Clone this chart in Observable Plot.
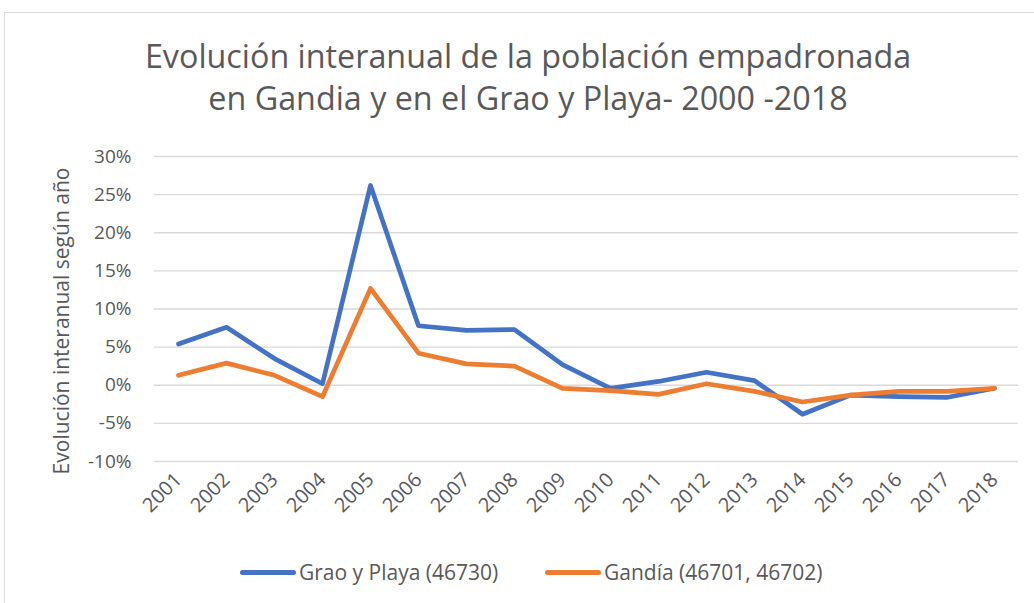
<!DOCTYPE html>
<html>
<head>
<meta charset="utf-8">
<script src="https://cdn.jsdelivr.net/npm/d3@7"></script>
<script src="https://cdn.jsdelivr.net/npm/@observablehq/plot@0.6"></script>
<style>
  html, body { margin: 0; padding: 0; background: #fff; }
  #wrap { position: relative; width: 1034px; height: 603px; overflow: hidden; font-family: "Open Sans", "Noto Sans", sans-serif; color: #595959; }
  #frame { position: absolute; left: 4px; top: 12px; width: 1100px; height: 700px; border-left: 1px solid #d9d9d9; border-top: 1px solid #d9d9d9; }
  #title { position: absolute; left: 0; width: 1056px; top: 34px; text-align: center; font-size: 32.3px; line-height: 42px; color: #595959; }
  #chart { position: absolute; left: 0; top: 0; }
  #legend { position: absolute; top: 559px; left: 0; width: 1034px; font-size: 21px; color: #595959; }
  .item { position: absolute; display: flex; align-items: center; height: 26px; }
  .sw { display: inline-block; width: 56px; height: 5px; border-radius: 3px; margin-right: 3px; }
</style>
</head>
<body>
<div id="wrap">
  <div id="frame"></div>
  <div id="title">Evolución interanual de la población empadronada<br>en Gandia y en el Grao y Playa- 2000 -2018</div>
  <div id="chart"></div>
  <div id="legend"></div>
</div>
<script>
const years = ["2001","2002","2003","2004","2005","2006","2007","2008","2009","2010","2011","2012","2013","2014","2015","2016","2017","2018"];
const graoPlaya = [5.4, 7.6, 3.5, 0.2, 26.2, 7.8, 7.2, 7.3, 2.7, -0.4, 0.5, 1.7, 0.6, -3.8, -1.3, -1.5, -1.6, -0.4];
const gandia = [1.3, 2.9, 1.3, -1.5, 12.7, 4.2, 2.8, 2.5, -0.4, -0.7, -1.2, 0.2, -0.8, -2.2, -1.3, -0.8, -0.8, -0.4];
const seriesNames = ["Grao y Playa (46730)", "Gandía (46701, 46702)"];
const seriesColors = ["#4472C4", "#ED7D31"];
const yTicks = [-10, -5, 0, 5, 10, 15, 20, 25, 30];
const yTitle = "Evolución interanual según año";

const rows = [];
years.forEach((yr, i) => {
  rows.push({year: yr, value: graoPlaya[i], serie: seriesNames[0]});
  rows.push({year: yr, value: gandia[i], serie: seriesNames[1]});
});

const fmt = d => d + "%";

const chart = Plot.plot({
  width: 1034,
  height: 603,
  marginTop: 156,
  marginBottom: 142,
  marginLeft: 154,
  marginRight: 16,
  style: {fontFamily: "'Open Sans', 'Noto Sans', sans-serif", color: "#595959", background: "transparent"},
  x: {type: "point", domain: years, padding: 0.5, label: null},
  y: {domain: [-10, 30], label: null},
  color: {domain: seriesNames, range: seriesColors},
  marks: [
    Plot.gridY(yTicks, {stroke: "#d9d9d9", strokeOpacity: 1, strokeWidth: 1.3}),
    Plot.axisY(yTicks, {tickFormat: fmt, tickSize: 0, tickPadding: 23, fontSize: 19, label: null}),
    Plot.axisX({tickRotate: -45, tickSize: 0, tickPadding: 15, fontSize: 20, label: null}),
    Plot.text([yTitle], {frameAnchor: "left", text: d => d, rotate: -90, dx: -92, dy: 12, fontSize: 21, textAnchor: "middle", lineAnchor: "middle", fill: "#595959"}),
    Plot.line(rows.filter(d => d.serie === seriesNames[0]), {x: "year", y: "value", stroke: "serie", strokeWidth: 4.7, strokeLinejoin: "round", strokeLinecap: "round"}),
    Plot.line(rows.filter(d => d.serie === seriesNames[1]), {x: "year", y: "value", stroke: "serie", strokeWidth: 4.7, strokeLinejoin: "round", strokeLinecap: "round"})
  ]
});
document.getElementById("chart").appendChild(chart);

const legend = document.getElementById("legend");
const lefts = [240, 545];
seriesNames.forEach((name, i) => {
  const it = document.createElement("div");
  it.className = "item";
  it.style.left = lefts[i] + "px";
  const sw = document.createElement("span");
  sw.className = "sw";
  sw.style.background = seriesColors[i];
  it.appendChild(sw);
  const t = document.createElement("span");
  t.textContent = name;
  it.appendChild(t);
  legend.appendChild(it);
});
</script>
</body>
</html>
